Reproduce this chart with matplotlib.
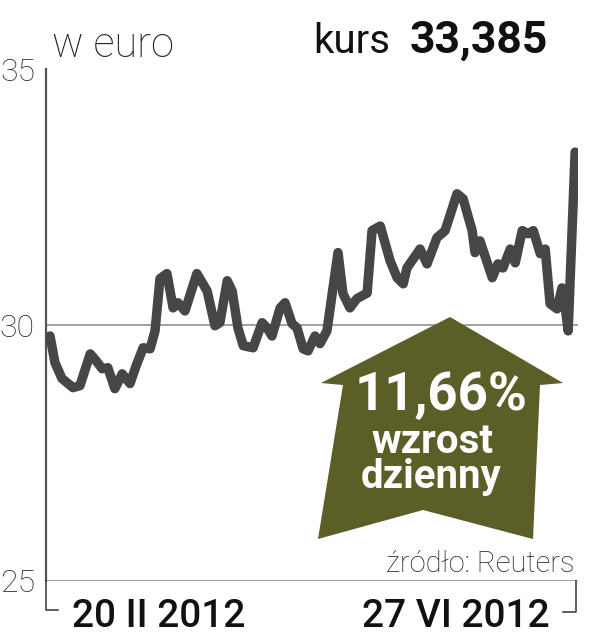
import matplotlib
matplotlib.use("Agg")
import matplotlib.pyplot as plt
from matplotlib.patches import Polygon
from matplotlib.lines import Line2D

plt.rcParams['font.family'] = ['Roboto', 'DejaVu Sans']

# ---- data (days since 20 II 2012, EUR price) ----
days = [0, 1.2, 2.9, 5.6, 7.3, 9.8, 11.2, 12.7, 14.1, 15.8, 17.6, 19.5, 21.0, 22.7,
        24.4, 25.6, 26.8, 28.5, 30.0, 31.2, 32.9, 35.8, 38.3, 40.2, 41.4, 43.2, 44.4,
        45.8, 47.1, 49.5, 51.7, 52.9, 54.1, 56.1, 57.3, 59.0, 60.2, 61.7, 62.9, 64.6,
        65.8, 67.5, 70.2, 71.4, 73.1, 74.8, 77.3, 78.5, 80.5, 82.9, 84.6, 86.1, 87.0,
        90.2, 91.9, 94.3, 96.3, 99.2, 100.7, 102.9, 103.6, 104.8, 107.8, 109.2, 110.4,
        112.2, 113.4, 115.1, 116.5, 117.8, 119.5, 120.7, 121.9, 123.6, 124.8, 125.6,
        126.3, 128.0]
prices = [29.79, 29.27, 28.96, 28.78, 28.82, 29.44, 29.31, 29.15, 29.17, 28.76, 29.05,
          28.86, 29.21, 29.56, 29.54, 29.89, 30.91, 31.01, 30.34, 30.44, 30.28, 31.01,
          30.67, 29.99, 30.05, 30.87, 30.67, 29.95, 29.60, 29.56, 30.05, 29.95, 29.79,
          30.34, 30.44, 30.03, 29.95, 29.54, 29.50, 29.79, 29.64, 29.89, 31.42, 30.62,
          30.34, 30.52, 30.63, 31.85, 31.94, 31.26, 30.93, 30.81, 31.12, 31.49, 31.20,
          31.71, 31.85, 32.57, 32.47, 31.85, 31.42, 31.65, 30.93, 31.20, 31.12, 31.49,
          31.22, 31.85, 31.79, 31.85, 31.40, 31.49, 30.42, 30.32, 30.73, 30.34, 29.89,
          33.385]
y_ticks = [25, 30, 35]
y_tick_labels = ["25", "30", "35"]
start_label = "20 II 2012"
end_label = "27 VI 2012"
unit_label = "w euro"
price_label = "33,385"
change_label = "11,66%"
source_label = "źródło: Reuters"

W, H = 611, 640
fig = plt.figure(figsize=(W / 100, H / 100), dpi=100)
fig.patch.set_facecolor('white')


def fx(x):
    return x / W


def fy(y):
    return 1 - y / H


ax = fig.add_axes([fx(46), fy(581), fx(578) - fx(46), fy(69.5) - fy(581)])
ax.set_xlim(-0.98, 128.7)
ax.set_ylim(25, 35)

for v in y_ticks:
    ax.axhline(v, color='#9a9a9a', lw=1.3, zorder=1)

ax.plot(days, prices, color='#464646', lw=6.8, solid_joinstyle='round',
        solid_capstyle='round', zorder=3)

for s in ['top', 'right', 'bottom']:
    ax.spines[s].set_visible(False)
ax.spines['left'].set_color('#555555')
ax.spines['left'].set_linewidth(1.6)
ax.set_xticks([])
ax.set_yticks(y_ticks)
ax.set_yticklabels(y_tick_labels, fontsize=23, color='#2a2a2a', fontweight='light')
ax.tick_params(axis='y', length=0, pad=8)

# arrow annotation
arrow_px = [(450, 317), (563, 383), (540, 385), (533, 539), (423, 510),
            (318, 539), (343, 385), (321, 383)]
poly = Polygon([(fx(x), fy(y)) for x, y in arrow_px], closed=True,
               transform=fig.transFigure, facecolor='#5b5e27', edgecolor='none',
               zorder=5)
fig.patches.append(poly)

fig.text(fx(441), fy(410), change_label, fontsize=38, fontweight='bold',
         color='white', ha='center', va='baseline', zorder=6)
fig.text(fx(432), fy(453), "wzrost", fontsize=29, fontweight='bold',
         color='white', ha='center', va='baseline', zorder=6)
fig.text(fx(431), fy(488), "dzienny", fontsize=29, fontweight='bold',
         color='white', ha='center', va='baseline', zorder=6)

# header texts
fig.text(fx(52), fy(57), unit_label, fontsize=30, fontweight='light',
         color='#222222', ha='left', va='baseline')
fig.text(fx(313), fy(53), "kurs", fontsize=29, color='#111111',
         ha='left', va='baseline')
fig.text(fx(548), fy(53), price_label, fontsize=32, fontweight='bold',
         color='#111111', ha='right', va='baseline')

# source
fig.text(fx(575), fy(572), source_label, fontsize=21, fontweight='light',
         color='#222222', ha='right', va='baseline')

# bottom date labels
fig.text(fx(72), fy(627), start_label, fontsize=28, fontweight='medium',
         color='#111111', ha='left', va='baseline')
fig.text(fx(550), fy(627), end_label, fontsize=28, fontweight='medium',
         color='#111111', ha='right', va='baseline')

# brackets
for xs, ys in [([46, 46, 58], [581, 610, 610]), ([563, 576, 576], [612, 612, 581])]:
    fig.lines.append(Line2D([fx(x) for x in xs], [fy(y) for y in ys],
                            transform=fig.transFigure, color='#444444', lw=1.2))

fig.savefig('out.png', dpi=100)
